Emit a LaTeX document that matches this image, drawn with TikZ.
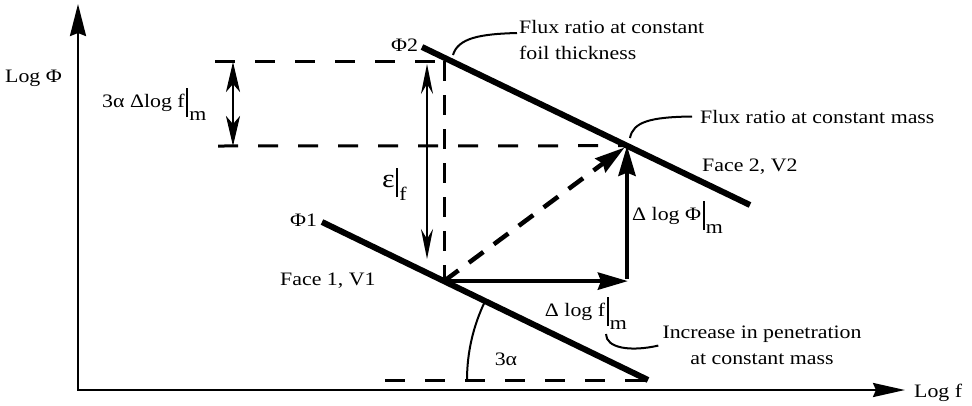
\documentclass[tikz,border=0pt]{standalone}
\usepackage{fontspec}
\setmainfont[FakeStretch=1.15]{Liberation Serif}
\usetikzlibrary{arrows.meta}
\newcommand{\evbar}[1]{\kern1.5pt\rule[-10pt]{2.2pt}{29pt}\kern1pt\raisebox{-13pt}{#1}}
\begin{document}
\begin{tikzpicture}[x=1pt,y=-1pt,
  lbl/.style={inner sep=0pt, font=\fontsize{19}{26}\selectfont},
  axis/.style={line width=2.5pt, {Stealth[length=32pt,width=16pt,inset=3pt]}-{Stealth[length=32pt,width=14pt,inset=3pt]}},
  faceline/.style={line width=6pt},
  dashline/.style={line width=3pt, dash pattern=on 20pt off 20pt},
  vdash/.style={line width=3pt, dash pattern=on 20pt off 14pt},
  diagarrow/.style={line width=4.5pt, dash pattern=on 18pt off 13pt, -{Stealth[length=30pt,width=17pt,inset=3pt]}},
  boldarrow/.style={line width=4.5pt, -{Stealth[length=30pt,width=17pt,inset=3pt]}},
  thinarrow/.style={line width=1.8pt, {Stealth[length=30pt,width=12pt,inset=10pt]}-{Stealth[length=30pt,width=12pt,inset=10pt]}},
  thickdbl/.style={line width=2.5pt, {Stealth[length=30pt,width=14pt,inset=8pt]}-{Stealth[length=30pt,width=14pt,inset=8pt]}},
  leader/.style={line width=2pt},
]
\useasboundingbox (0,0) rectangle (972,405);
% axes
\coordinate (Ytop) at (78,4);
\coordinate (O) at (78,390);
\coordinate (Xend) at (905,390);
\draw[axis] (Ytop) -- (O) -- (Xend);
% face lines
\coordinate (A1) at (322,222);
\coordinate (B1) at (648,380);
\coordinate (A2) at (422,47);
\coordinate (B2) at (750,205);
\coordinate (P1) at (444,281.1);
\coordinate (P2) at (627,145.7);
\coordinate (C) at (627,281.1);
\draw[faceline] (A1) -- (B1);
\draw[faceline] (A2) -- (B2);
% dashed construction lines
\coordinate (T1) at (215,61);
\coordinate (T2) at (444,61);
\coordinate (M1) at (218,146);
\coordinate (D1) at (385,380);
\draw[dashline] (T1) -- (T2);
\draw[vdash] (T2) -- (P1);
\draw[dashline] (M1) -- (P2);
\draw[dashline] (D1) -- (B1);
\draw[diagarrow, shorten >=3pt] (P1) -- (P2);
% bold arrows
\draw[boldarrow, shorten >=-1pt] (P1) -- (C);
\draw[boldarrow] ([yshift=2pt]C) -- (P2);
% double arrows
\coordinate (E1) at (427,64);
\coordinate (E2) at (427,259);
\draw[thinarrow] (E1) -- (E2);
\coordinate (K1) at (233,62);
\coordinate (K2) at (233,146);
\draw[thickdbl] (K1) -- (K2);
% angle arc
\coordinate (R0) at (467,380);
\draw[leader] (R0) arc[start angle=180, end angle=154.2, radius=181pt];
% labels
\node[lbl, anchor=base west] (logphi) at (5,82) {Log Φ};
\node[lbl, anchor=base west] (logf) at (914,397) {Log f};
\node[lbl, anchor=base west] (dlf3) at (102,107) {3α Δlog f\evbar{m}};
\node[lbl, anchor=base west] (eps) at (382,187) {{\fontsize{26}{26}\selectfont ε}\evbar{f}};
\node[lbl, anchor=base west] (phi2) at (391,51) {Φ2};
\node[lbl, anchor=base west] (phi1) at (290,226) {Φ1};
\node[lbl, anchor=north west, align=left] (foil) at (519,20) {Flux ratio at constant\\foil thickness};
\node[lbl, anchor=base west] (mass) at (700,123) {Flux ratio at constant mass};
\node[lbl, anchor=base west] (face2) at (702,171) {Face 2, V2};
\node[lbl, anchor=base west] (face1) at (280,285) {Face 1, V1};
\node[lbl, anchor=base east] (dlf) at (627,316) {Δ log f\evbar{m}};
\node[lbl, anchor=base west] (dlphi) at (632,220) {Δ log Φ\evbar{m}};
\node[lbl, anchor=north, align=center] (incr) at (762,326) {Increase in penetration\\at constant mass};
\node[lbl] (alpha) at (506,359) {3α};
% leaders
\coordinate (L1) at (453,55);
\coordinate (L2) at (630,138);
\coordinate (L3) at (606,334);
\draw[leader] (L1) .. controls (458,38) and (480,34) .. ([xshift=-2pt]foil.west |- 0,33);
\draw[leader] (L2) .. controls (633,122) and (650,117) .. ([xshift=-8pt]mass.west);
\draw[leader] (L3) .. controls (606,348) and (630,352) .. ([xshift=-4pt]incr.west);
\end{tikzpicture}
\end{document}
